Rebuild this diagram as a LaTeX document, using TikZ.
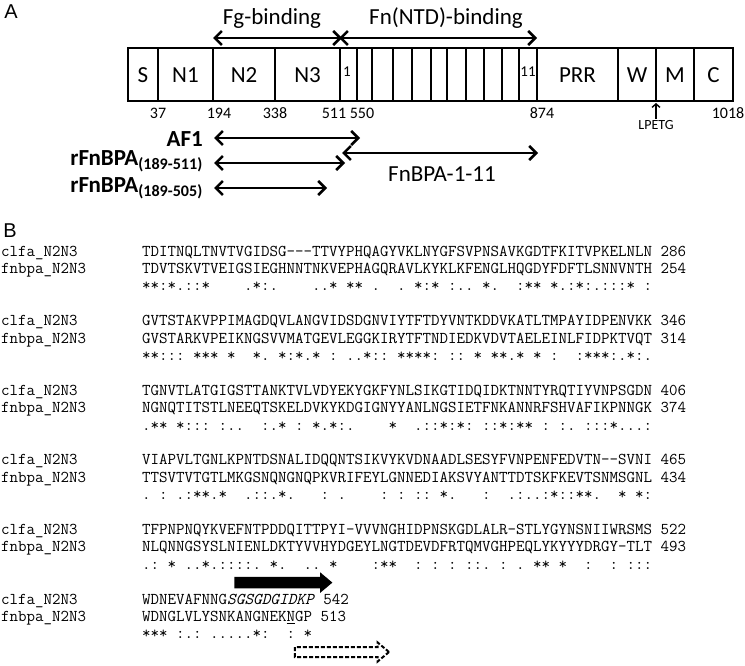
\documentclass[tikz,border=0pt]{standalone}
\usepackage{fontspec}
\setmainfont{Carlito}
\setsansfont{Liberation Sans}
\usetikzlibrary{arrows.meta,shapes.arrows}

\begin{document}
\begin{tikzpicture}
[x=1pt,y=-1pt,
  every node/.style={inner sep=0pt},
  panel/.style={font=\sffamily\fontsize{20}{22}\selectfont},
  dom/.style={font=\fontsize{23}{26}\selectfont},
  rep/.style={font=\fontsize{15}{17}\selectfont},
  num/.style={font=\fontsize{16}{18}\selectfont,anchor=base},
  frag/.style={font=\bfseries\fontsize{23}{26}\selectfont,anchor=base east},
  seq/.style={font=\ttfamily\fontsize{16.5}{17}\selectfont,anchor=base west},
  dbl/.style={line width=2.5pt,{Straight Barb[length=7pt,width=14pt]}-{Straight Barb[length=7pt,width=14pt]}},
  motif/.style={single arrow,single arrow head extend=4.5pt,single arrow tip angle=80}
]
\useasboundingbox (0,0) rectangle (745,666);

% panel A: domain organisation
\node[panel] (lblA) at (11,12) {A};
\node[dom,anchor=base] (fg) at (272,25) {Fg-binding};
\node[dom,anchor=base] (fn) at (446,25) {Fn(NTD)-binding};
\coordinate (fg-l) at (213,38);
\coordinate (fg-r) at (342,38);
\coordinate (fn-l) at (339,38);
\coordinate (fn-r) at (537,38);
\draw[dbl] (fg-l) -- (fg-r);
\draw[dbl] (fn-l) -- (fn-r);

\draw[line width=2.2pt] (128,48) rectangle (733,101);
\foreach \x in {158,213,275,340,357,372,393,412,431,447,466,484,502,519,537,618,656,694}
  \draw[line width=1.6pt] (\x,48) -- (\x,101);
\foreach \x/\t in {143/S,185.5/N1,244/N2,307.5/N3,577.5/PRR,637/W,675/M,713.5/C}
  \node[dom] (d-\t) at (\x,75) {\t};
\node[rep] (r1) at (347,72) {1};
\node[rep] (r11) at (528,72) {11};

\foreach \x/\n in {158/37,219/194,275/338,334/511,362/550,542/874,728/1018}
  \node[num] (n\n) at (\x,119) {\n};
\node[font=\fontsize{14}{16}\selectfont,anchor=base] (lpetg) at (656,130) {LPETG};
\coordinate (wm) at (656,103);
\draw[line width=1.4pt,-{Straight Barb[length=3.5pt,width=8pt]}] ([yshift=2pt]lpetg.north) -- (wm);

% constructs
\node[frag] (af1) at (203,147) {AF1};
\node[frag] (r511) at (203,166) {rFnBPA\textsubscript{(189-511)}};
\node[frag] (r505) at (203,193) {rFnBPA\textsubscript{(189-505)}};
\node[dom,anchor=base] (fnr) at (442,182) {FnBPA-1-11};
\coordinate (af1-l) at (214,138);
\coordinate (af1-r) at (360,138);
\coordinate (r511-l) at (214,163);
\coordinate (r511-r) at (345,163);
\coordinate (r505-l) at (214,188);
\coordinate (r505-r) at (327,188);
\coordinate (fnr-l) at (342,153);
\coordinate (fnr-r) at (538,153);
\draw[dbl] (af1-l) -- (af1-r);
\draw[dbl] (r511-l) -- (r511-r);
\draw[dbl] (r505-l) -- (r505-r);
\draw[dbl] (fnr-l) -- (fnr-r);

% panel B: alignment
\node[panel] (lblB) at (10,231) {B};

\node[seq] (n1a) at (1,256) {clfa\_N2N3};
\node[seq] (n1b) at (1,273.4) {fnbpa\_N2N3};
\node[seq] (s1a) at (142,256) {TDITNQLTNVTVGIDSG\mbox{-}\mbox{-}\mbox{-}TTVYPHQAGYVKLNYGFSVPNSAVKGDTFKITVPKELNLN 286};
\node[seq] (s1b) at (142,273.4) {TDVTSKVTVEIGSIEGHNNTNKVEPHAGQRAVLKYKLKFENGLHQGDYFDFTLSNNVNTH 254};
\node[seq] (c1) at (142,290.8) {**:*.::*~~~~.*:.~~~~..*~**~.~~.~*:*~:..~*.~~:**~*.:*:.:::*~:};

\node[seq] (n2a) at (1,325.6) {clfa\_N2N3};
\node[seq] (n2b) at (1,343) {fnbpa\_N2N3};
\node[seq] (s2a) at (142,325.6) {GVTSTAKVPPIMAGDQVLANGVIDSDGNVIYTFTDYVNTKDDVKATLTMPAYIDPENVKK 346};
\node[seq] (s2b) at (142,343) {GVSTARKVPEIKNGSVVMATGEVLEGGKIRYTFTNDIEDKVDVTAELEINLFIDPKTVQT 314};
\node[seq] (c2) at (142,360.4) {**:::~***~*~~*.~*:*.*~:~..*::~****:~::~*~**.*~*~:~~:***:.*:.};

\node[seq] (n3a) at (1,395.2) {clfa\_N2N3};
\node[seq] (n3b) at (1,412.6) {fnbpa\_N2N3};
\node[seq] (s3a) at (142,395.2) {TGNVTLATGIGSTTANKTVLVDYEKYGKFYNLSIKGTIDQIDKTNNTYRQTIYVNPSGDN 406};
\node[seq] (s3b) at (142,412.6) {NGNQTITSTLNEEQTSKELDVKYKDGIGNYYANLNGSIETFNKANNRFSHVAFIKPNNGK 374};
\node[seq] (c3) at (142,430) {.**~*:::~:..~~:.*~:~*.*:.~~~~*~~.::*:*:~::*:**~:~:.~:::*...:};

\node[seq] (n4a) at (1,464.8) {clfa\_N2N3};
\node[seq] (n4b) at (1,482.2) {fnbpa\_N2N3};
\node[seq] (s4a) at (142,464.8) {VIAPVLTGNLKPNTDSNALIDQQNTSIKVYKVDNAADLSESYFVNPENFEDVTN\mbox{-}\mbox{-}SVNI 465};
\node[seq] (s4b) at (142,482.2) {TTSVTVTGTLMKGSNQNGNQPKVRIFEYLGNNEDIAKSVYANTTDTSKFKEVTSNMSGNL 434};
\node[seq] (c4) at (142,499.6) {.~:~.:**.*~~.::.*.~~~:~.~~~~:~:~::~*.~~~:~~.:..:*::**.~~*~*:};

\node[seq] (n5a) at (1,534.4) {clfa\_N2N3};
\node[seq] (n5b) at (1,551.8) {fnbpa\_N2N3};
\node[seq] (s5a) at (142,534.4) {TFPNPNQYKVEFNTPDDQITTPYI\mbox{-}VVVNGHIDPNSKGDLALR\mbox{-}STLYGYNSNIIWRSMS 522};
\node[seq] (s5b) at (142,551.8) {NLQNNGSYSLNIENLDKTYVVHYDGEYLNGTDEVDFRTQMVGHPEQLYKYYYDRGY\mbox{-}TLT 493};
\node[seq] (c5) at (142,569.2) {.:~*~..*.::::.~*.~~..~*~~~~:**~~:~:~:~::.~:~.~**~*~~:~~:~:::};

\node[fill=black,motif,minimum height=98pt,inner sep=5.5pt] (strand) at (280,582.6) {};

\node[seq] (n6a) at (1,604) {clfa\_N2N3};
\node[seq] (n6b) at (1,621.4) {fnbpa\_N2N3};
\node[seq] (s6a) at (142,604) {WDNEVAFNNG\textit{SGSGDGIDKP} 542};
\node[seq] (s6b) at (142,621.4) {WDNGLVLYSNKANGNEK\underline{N}GP 513};
\node[seq] (c6) at (142,638.8) {***~:.:~.....*:~~:~*};

\node[draw,dash pattern=on 4pt off 2pt,line width=2pt,motif,minimum height=94pt,inner sep=4pt] (latch) at (339,652) {};
\end{tikzpicture}
\end{document}
